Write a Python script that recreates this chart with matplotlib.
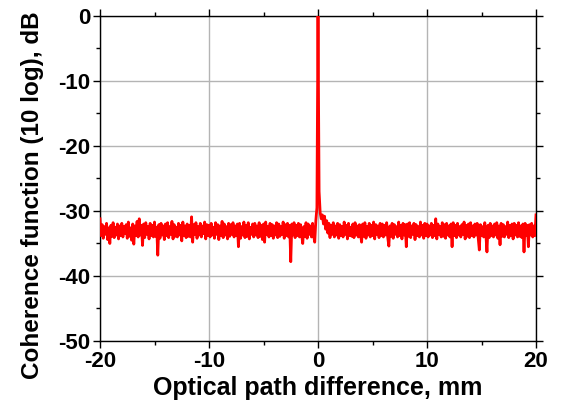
import numpy as np
import matplotlib
matplotlib.use("Agg")
import matplotlib.pyplot as plt
from matplotlib.ticker import MultipleLocator

plt.rcParams["font.family"] = ["Liberation Sans", "DejaVu Sans"]
plt.rcParams["font.weight"] = "bold"
plt.rcParams["axes.unicode_minus"] = False

# ── data ───────────────────────────────────────────────────────────────────
# noise floor left of the peak, x = -20.0 ... -0.1 mm, step 0.1 mm
noise_left = [
    -31.2, -33.8, -32.1, -34.2, -32.4, -33.6, -31.9, -34.4, -32.6, -35.0,
    -32.2, -33.9, -31.8, -34.1, -32.5, -33.7, -32.0, -34.3, -32.3, -33.8,
    -31.9, -34.0, -32.4, -33.5, -32.1, -34.2, -31.7, -33.9, -32.6, -34.5,
    -32.0, -35.1, -32.3, -33.8, -31.6, -34.0, -31.2, -33.7, -32.2, -35.3,
    -32.0, -34.1, -31.8, -33.6, -32.4, -34.3, -31.9, -33.8, -32.2, -34.0,
    -31.7, -33.9, -32.5, -36.8, -32.1, -34.2, -31.9, -33.7, -32.3, -34.4,
    -32.0, -33.8, -31.8, -34.1, -32.4, -33.6, -31.6, -34.3, -32.1, -33.9,
    -32.5, -34.0, -31.9, -33.7, -32.2, -34.6, -31.7, -33.8, -32.3, -34.1,
    -32.0, -33.9, -32.2, -34.0, -30.9, -34.8, -32.1, -33.6, -31.8, -34.2,
    -32.4, -33.7, -31.9, -34.0, -32.3, -33.5, -31.7, -34.3, -32.1, -33.8,
    -32.2, -34.0, -31.9, -33.7, -32.5, -34.2, -31.8, -33.6, -32.1, -34.4,
    -32.3, -33.8, -31.6, -34.1, -32.0, -33.7, -32.4, -34.3, -31.9, -33.9,
    -32.1, -33.6, -31.8, -34.0, -32.3, -33.8, -32.0, -35.5, -31.9, -34.2,
    -32.4, -33.7, -31.7, -34.1, -32.2, -33.9, -31.8, -34.3, -32.5, -33.6,
    -32.0, -34.0, -31.9, -33.7, -32.3, -34.1, -31.8, -33.9, -32.2, -34.4,
    -32.0, -34.8, -31.7, -33.6, -32.4, -34.0, -31.9, -33.8, -32.1, -34.2,
    -32.3, -33.7, -31.8, -34.1, -32.0, -33.9, -32.4, -33.6, -31.7, -34.2,
    -32.1, -33.8, -31.9, -34.0, -32.2, -37.8, -32.0, -33.7, -31.8, -34.1,
    -32.2, -33.8, -31.9, -34.0, -32.1, -33.7, -35.0, -32.4, -33.9, -31.8,
    -34.2, -32.0, -33.6, -32.3, -34.0, -31.9, -33.8, -34.8, -31.5, -29.5,
]

# central coherence peak
peak_x = [-0.05, 0.0, 0.05]
peak_y = [-14.0, 0.0, -13.0]

# noise floor right of the peak, x = 0.1 ... 20.0 mm, step 0.1 mm
noise_right = [
    -27.0, -30.3, -31.2, -30.6, -32.0, -30.8, -32.8, -31.5, -33.4, -31.9,
    -34.1, -32.2, -33.6, -31.8, -34.0, -32.3, -33.7, -31.9, -34.2, -32.1,
    -33.8, -32.4, -34.0, -31.7, -33.6, -32.2, -34.3, -31.9, -33.8, -32.5,
    -33.9, -32.0, -34.1, -31.8, -33.7, -32.3, -34.0, -32.1, -33.6, -34.8,
    -32.0, -33.9, -31.8, -34.2, -32.4, -33.7, -31.9, -34.0, -32.2, -33.8,
    -31.7, -34.3, -32.1, -33.6, -32.3, -34.1, -31.9, -33.8, -32.0, -34.0,
    -32.2, -33.7, -31.8, -34.1, -35.4, -32.3, -33.9, -31.9, -34.2, -32.1,
    -33.6, -32.4, -34.0, -31.7, -33.8, -32.2, -34.3, -31.9, -33.7, -32.1,
    -35.5, -32.0, -33.9, -31.8, -34.1, -32.3, -33.6, -31.9, -34.4, -32.1,
    -33.8, -32.4, -34.0, -31.7, -33.7, -32.2, -34.2, -31.9, -33.8, -32.0,
    -34.0, -32.3, -33.7, -31.9, -34.1, -32.2, -33.8, -31.2, -34.3, -32.0,
    -33.6, -32.4, -34.0, -31.8, -33.9, -32.1, -34.2, -31.9, -33.7, -32.3,
    -34.0, -32.0, -35.5, -31.8, -33.8, -32.2, -34.1, -31.9, -33.7, -32.4,
    -34.0, -32.1, -33.6, -31.7, -34.3, -32.2, -33.9, -32.0, -34.1, -31.8,
    -33.8, -32.3, -34.0, -32.0, -33.7, -31.9, -34.2, -36.0, -32.1, -33.8,
    -32.4, -34.0, -31.8, -33.6, -36.3, -32.2, -34.1, -31.9, -33.8, -32.3,
    -34.0, -32.0, -33.7, -31.8, -34.2, -32.3, -35.2, -31.9, -33.9, -32.1,
    -34.0, -32.4, -33.6, -31.7, -34.1, -32.2, -33.8, -32.0, -34.3, -31.9,
    -33.7, -32.2, -34.0, -31.8, -33.9, -32.3, -34.1, -32.0, -36.3, -31.9,
    -33.8, -32.2, -35.5, -32.1, -33.7, -31.9, -34.0, -32.3, -33.8, -30.6,
]

x_left = np.round(np.arange(len(noise_left)) * 0.1 - 20.0, 2)
x_right = np.round(np.arange(1, len(noise_right) + 1) * 0.1, 2)
x = np.concatenate([x_left, peak_x, x_right])
y = np.concatenate([noise_left, peak_y, noise_right])

# ── figure ─────────────────────────────────────────────────────────────────
fig = plt.figure(figsize=(5.66, 4.09), dpi=100)
ax = fig.add_axes([0.1767, 0.1663, 0.7703, 0.7946])

ax.plot(x, y, color="#ff0000", lw=2.0, zorder=3)

ax.set_xlim(-20, 20)
ax.set_ylim(-50, 0)
ax.xaxis.set_major_locator(MultipleLocator(10))
ax.xaxis.set_minor_locator(MultipleLocator(5))
ax.yaxis.set_major_locator(MultipleLocator(10))
ax.yaxis.set_minor_locator(MultipleLocator(5))
ax.grid(True, which="major", color="#b4b4b4", lw=1.0, zorder=0)

ax.tick_params(which="both", direction="out", top=True, right=True,
               labeltop=False, labelright=False, width=1.0, labelsize=16,
               pad=2)
ax.tick_params(which="major", length=5)
ax.tick_params(which="minor", length=3)
for s in ax.spines.values():
    s.set_linewidth(1.0)

ax.set_xlabel("Optical path difference, mm", fontsize=18, fontweight="bold",
              labelpad=3)
ax.set_ylabel("Coherence function (10 log), dB", fontsize=17.5,
              fontweight="bold")
ax.yaxis.set_label_coords(-0.128, 0.45)

fig.savefig("out.png", dpi=100)
